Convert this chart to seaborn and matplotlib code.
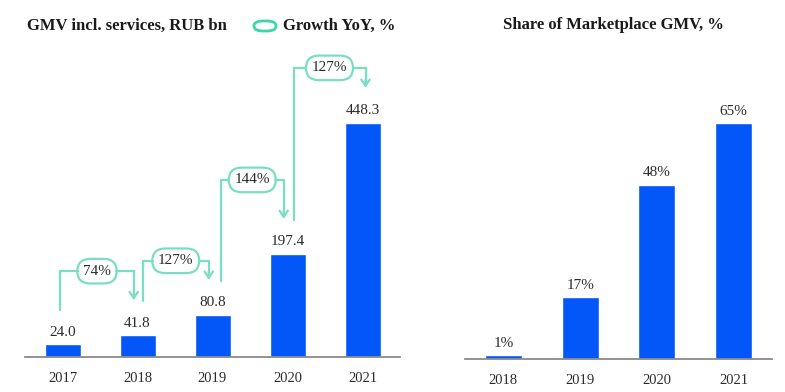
import numpy as np
import pandas as pd
import matplotlib
matplotlib.use('Agg')
import matplotlib.pyplot as plt
from matplotlib.patches import FancyBboxPatch
import seaborn as sns

# data
gmv_years = ['2017', '2018', '2019', '2020', '2021']
gmv_values = [24.0, 41.8, 80.8, 197.4, 448.3]
growth_labels = ['74%', '127%', '144%', '127%']

share_years = ['2018', '2019', '2020', '2021']
share_values = [1, 17, 48, 65]

BLUE = '#0356F7'
MINT = '#79DEC3'
MINT_DARK = '#3FD5AA'
TXT = '#2b2b2b'

sns.set_style('white')
plt.rcParams['font.family'] = ['Liberation Serif', 'DejaVu Serif']

fig = plt.figure(figsize=(7.85, 3.92), dpi=100)
W, H = 785, 392

# left axes: x 25..400 px, y 357..40 px
axl = fig.add_axes([25 / W, (H - 357) / H, 375 / W, 317 / H])
axr = fig.add_axes([465 / W, (H - 359) / H, 307 / W, 319 / H])

df_gmv = pd.DataFrame({'year': gmv_years, 'value': gmv_values})
df_share = pd.DataFrame({'year': share_years, 'value': share_values})

sns.barplot(data=df_gmv, x='year', y='value', color=BLUE, saturation=1,
            width=0.48, ax=axl)
sns.barplot(data=df_share, x='year', y='value', color=BLUE, saturation=1,
            width=0.48, ax=axr)

axl.set_xlim(-0.5, 4.5)
axl.set_ylim(0, 607)
axr.set_xlim(-0.5, 3.5)
axr.set_ylim(0, 87.9)

axl.bar_label(axl.containers[0], labels=[f'{v:.1f}' for v in gmv_values],
              padding=4, fontsize=11, color=TXT)
axr.bar_label(axr.containers[0], labels=[f'{v}%' for v in share_values],
              padding=4, fontsize=11, color=TXT)

for ax in (axl, axr):
    for s in ['top', 'right', 'left']:
        ax.spines[s].set_visible(False)
    ax.spines['bottom'].set_color('#8a8a8a')
    ax.spines['bottom'].set_linewidth(1.3)
    ax.set_yticks([])
    ax.set_xlabel('')
    ax.set_ylabel('')
    ax.tick_params(axis='x', length=0, pad=11, labelsize=10.5, labelcolor=TXT)

# growth connectors (layout offsets in pixels)
upp = 607 / 317  # data units per pixel on left axes
start_px = 34
end_px = 35
rise_px = [29, 19, 39, 20]
x_start_shift = [-0.03, 0.07, 0.11, 0.08]
x_end_shift = [-0.05, -0.05, -0.05, 0.04]
for i, lab in enumerate(growth_labels):
    x0 = i + x_start_shift[i]
    x1 = i + 1 + x_end_shift[i]
    y0 = gmv_values[i] + start_px * upp
    y1 = gmv_values[i + 1] + end_px * upp
    ytop = y1 + rise_px[i] * upp
    axl.plot([x0, x0, x1, x1], [y0, ytop, ytop, y1 + 6 * upp],
             color=MINT, lw=1.6, solid_joinstyle='miter', clip_on=False)
    axl.annotate('', xy=(x1, y1), xytext=(x1, y1 + 8 * upp),
                 arrowprops=dict(arrowstyle='->,head_length=0.45,head_width=0.3',
                                 color=MINT, lw=1.6, shrinkA=0, shrinkB=0),
                 annotation_clip=False)
    axl.text((x0 + x1) / 2, ytop, lab, ha='center', va='center', fontsize=11,
             color=TXT,
             bbox=dict(boxstyle='round,pad=0.38,rounding_size=0.85',
                       fc='white', ec=MINT, lw=1.6))

# titles and legend
fig.text(27 / W, 1 - 26 / H, 'GMV incl. services, RUB bn', fontsize=12,
         fontweight='bold', color='#1a1a1a', ha='left', va='center')
fig.text(613 / W, 1 - 25 / H, 'Share of Marketplace GMV, %', fontsize=12,
         fontweight='bold', color='#1a1a1a', ha='center', va='center')
fig.patches.append(FancyBboxPatch((254 / W, 1 - 31 / H), 22 / W, 10 / H,
                                  boxstyle='round,pad=0,rounding_size=0.012',
                                  transform=fig.transFigure, fc='white',
                                  ec=MINT_DARK, lw=2))
fig.text(283 / W, 1 - 26 / H, 'Growth YoY, %', fontsize=12,
         fontweight='bold', color='#1a1a1a', ha='left', va='center')

fig.savefig('out.png', dpi=100, facecolor='white')
